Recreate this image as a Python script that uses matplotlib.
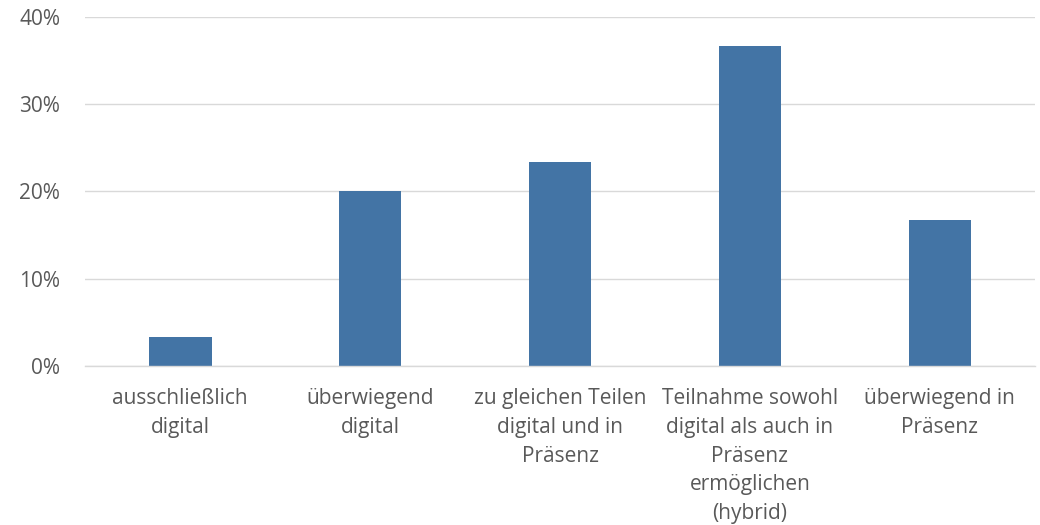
import matplotlib
matplotlib.use('Agg')
import matplotlib.pyplot as plt
from matplotlib.ticker import FuncFormatter

categories = [
    "ausschließlich\ndigital",
    "überwiegend\ndigital",
    "zu gleichen Teilen\ndigital und in\nPräsenz",
    "Teilnahme sowohl\ndigital als auch in\nPräsenz\nermöglichen\n(hybrid)",
    "überwiegend in\nPräsenz",
]
values = [3.33, 20.0, 23.33, 36.67, 16.67]
y_ticks = [0, 10, 20, 30, 40]

text_color = '#595959'
bar_color = '#4374A5'
grid_color = '#D9D9D9'

plt.rcParams['font.family'] = ['Open Sans', 'DejaVu Sans']

fig = plt.figure(figsize=(10.4, 5.25), dpi=100)
ax = fig.add_axes([0.082, 0.303, 0.913, 0.665])

x = range(len(categories))
ax.bar(x, values, width=0.33, color=bar_color, zorder=3)

ax.set_xlim(-0.5, len(categories) - 0.5)
ax.set_ylim(0, 40)
ax.set_yticks(y_ticks)
ax.yaxis.set_major_formatter(FuncFormatter(lambda v, p: f"{v:.0f}%"))
ax.set_xticks(list(x))
ax.set_xticklabels(categories, linespacing=1.48)

ax.grid(axis='y', color=grid_color, linewidth=1, zorder=0)
for s in ['top', 'right', 'left']:
    ax.spines[s].set_visible(False)
ax.spines['bottom'].set_color(grid_color)
ax.spines['bottom'].set_linewidth(1)
ax.spines['bottom'].set_zorder(4)

ax.tick_params(axis='both', length=0, labelsize=15, colors=text_color)
ax.tick_params(axis='x', pad=16)
ax.tick_params(axis='y', pad=18)

fig.savefig('out.png', dpi=100)
